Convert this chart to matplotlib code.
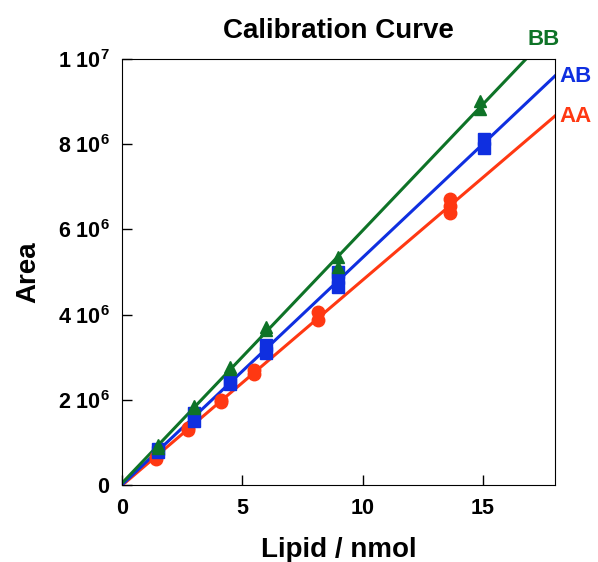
import numpy as np
import matplotlib
matplotlib.use('Agg')
import matplotlib.pyplot as plt

plt.rcParams['font.family'] = ['Liberation Sans', 'DejaVu Sans']
plt.rcParams['mathtext.fontset'] = 'custom'
plt.rcParams['mathtext.rm'] = 'Liberation Sans:bold'
plt.rcParams['mathtext.it'] = 'Liberation Sans:bold'
plt.rcParams['mathtext.bf'] = 'Liberation Sans:bold'

# data (nmol, area)
aa_x = [1.4, 1.4, 2.75, 2.75, 4.1, 4.1, 5.5, 5.5, 8.15, 8.15, 13.65, 13.65, 13.65]
aa_y = [0.62e6, 0.66e6, 1.28e6, 1.33e6, 1.95e6, 2.0e6, 2.6e6, 2.7e6,
        3.87e6, 4.05e6, 6.38e6, 6.55e6, 6.71e6]
ab_x = [1.5, 1.5, 3.0, 3.0, 4.5, 4.5, 6.0, 6.0, 9.0, 9.0, 9.0, 15.05, 15.05]
ab_y = [0.78e6, 0.84e6, 1.5e6, 1.68e6, 2.37e6, 2.42e6, 3.1e6, 3.28e6,
        4.65e6, 4.85e6, 5.0e6, 7.9e6, 8.12e6]
bb_x = [1.5, 1.5, 3.0, 3.0, 4.5, 4.5, 6.0, 6.0, 9.0, 9.0, 14.9, 14.9]
bb_y = [0.88e6, 0.93e6, 1.8e6, 1.86e6, 2.72e6, 2.78e6, 3.65e6, 3.7e6,
        5.12e6, 5.35e6, 8.83e6, 9.01e6]

series = [
    ('AA', aa_x, aa_y, '#ff3812', 'o', 9),
    ('AB', ab_x, ab_y, '#0f2fe0', 's', 8),
    ('BB', bb_x, bb_y, '#0e7327', '^', 8),
]
label_pos = {'AA': (18.2, 8.64e6), 'AB': (18.2, 9.58e6), 'BB': (16.85, 1.045e7)}

yticks = [0, 2e6, 4e6, 6e6, 8e6, 1e7]
yticklabels = ['0', r'2 10$^{6}$', r'4 10$^{6}$', r'6 10$^{6}$', r'8 10$^{6}$', r'1 10$^{7}$']
xticks = [0, 5, 10, 15]

fig = plt.figure(figsize=(5.98, 5.62), dpi=100)
ax = fig.add_axes([0.204, 0.137, 0.724, 0.758])

xx = np.array([0, 18])
for name, x, y, col, mk, ms in series:
    k, b = np.polyfit(x, y, 1)
    ax.plot(xx, k * xx + b, color=col, lw=2.2, zorder=2)
    ax.plot(x, y, ls='none', marker=mk, color=col, ms=ms, zorder=3)
    lx, ly = label_pos[name]
    ax.text(lx, ly, name, color=col, fontsize=16, fontweight='bold',
            ha='left', va='center', clip_on=False)

ax.set_xlim(0, 18)
ax.set_ylim(0, 1e7)
ax.set_xticks(xticks)
ax.set_yticks(yticks)
ax.set_yticklabels(yticklabels)
ax.tick_params(direction='in', length=7, width=1, labelsize=15.5, pad=9)
for lab in ax.get_xticklabels() + ax.get_yticklabels():
    lab.set_fontweight('bold')

ax.set_title('Calibration Curve', fontsize=20, fontweight='bold', pad=15)
ax.set_xlabel('Lipid / nmol', fontsize=20, fontweight='bold', labelpad=13)
ax.set_ylabel('Area', fontsize=20, fontweight='bold', labelpad=12)

fig.savefig('out.png', dpi=100)
